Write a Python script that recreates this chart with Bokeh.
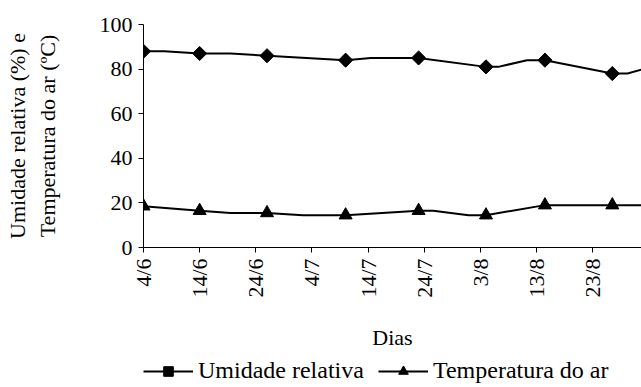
import math
from bokeh.plotting import figure
from bokeh.layouts import column
from bokeh.models import Legend, LegendItem, FixedTicker, Range1d
from bokeh.embed import file_html
from bokeh.resources import INLINE

# X axis: days counted from 4/6, labels every 10 days
tick_days = [0, 10, 20, 30, 40, 50, 60, 70, 80, 90]
tick_labels = ["4/6", "14/6", "24/6", "4/7", "14/7", "24/7", "3/8", "13/8", "23/8", "2/9"]

# sampling days (with markers)
sample_days = [0, 10, 22, 36, 49, 61, 71.5, 83.5]
hum_samples = [88, 87, 86, 84, 85, 81, 84, 78]
temp_samples = [18.5, 16.5, 15.5, 14.5, 16.5, 14.5, 19, 19]

# line vertices (including unmarked bends)
hum_line_days = [0, 3.7, 10, 15.5, 22, 36, 40.5, 49, 61, 63.2, 68.3, 71.5, 83.5, 86.2, 89]
hum_line_vals = [88, 88, 87, 87, 86, 84, 85, 85, 81, 81, 84, 84, 78, 78, 80]
temp_line_days = [0, 10, 15.5, 22, 28.4, 36, 49, 51.6, 57.9, 61, 71.5, 83.5, 89]
temp_line_vals = [18.5, 16.5, 15.5, 15.5, 14.5, 14.5, 16.5, 16.5, 14.5, 14.5, 19, 19, 19]

series_names = ["Umidade relativa", "Temperatura do ar"]

FONT = "Liberation Serif"
FS = "22px"


def draw_series(fig):
    a = fig.line(hum_line_days, hum_line_vals, line_color="black", line_width=2)
    b = fig.scatter(sample_days, hum_samples, marker="square", angle=math.pi / 4,
                    size=10, fill_color="black", line_color="black")
    c = fig.line(temp_line_days, temp_line_vals, line_color="black", line_width=2)
    d = fig.scatter(sample_days, temp_samples, marker="triangle", size=13,
                    fill_color="black", line_color="black")
    return a, b, c, d


p = figure(width=641, height=352, output_backend="svg", toolbar_location=None,
           x_range=Range1d(0, 88.7), y_range=Range1d(0, 100),
           min_border_left=143, min_border_right=0, min_border_top=24,
           min_border_bottom=0)
p.outline_line_color = None
p.grid.visible = False
draw_series(p)

# x axis
p.xaxis.ticker = FixedTicker(ticks=tick_days)
p.xaxis.major_label_overrides = {d: l for d, l in zip(tick_days, tick_labels)}
p.xaxis.major_label_orientation = math.pi / 2
p.xaxis.axis_label = "Dias"
p.xaxis.minor_tick_line_color = None

# y axis
p.yaxis.ticker = FixedTicker(ticks=[0, 20, 40, 60, 80, 100])
p.yaxis.minor_tick_line_color = None
p.yaxis.axis_label = "Umidade relativa (%) e\nTemperatura do ar (ºC)"

for ax in (p.xaxis, p.yaxis):
    ax.axis_line_color = "black"
    ax.major_tick_line_color = "black"
    ax.major_tick_out = 5
    ax.major_tick_in = 0
    ax.major_label_text_font = FONT
    ax.major_label_text_font_size = FS
    ax.major_label_text_color = "black"
    ax.axis_label_text_font = FONT
    ax.axis_label_text_font_size = FS
    ax.axis_label_text_font_style = "normal"
    ax.axis_label_text_color = "black"
p.yaxis.major_label_standoff = 6
p.xaxis.major_label_standoff = 6
p.xaxis.axis_label_standoff = 24
p.yaxis.axis_label_standoff = 37

# legend strip below the chart (series drawn out of view, used only for legend glyphs)
lg = figure(width=641, height=35, output_backend="svg", toolbar_location=None,
            x_range=Range1d(0, 1), y_range=Range1d(-2, -1),
            min_border=0)
lg.outline_line_color = None
lg.grid.visible = False
lg.axis.visible = False
l1, s1, l2, s2 = draw_series(lg)

legend = Legend(items=[
    LegendItem(label=series_names[0], renderers=[l1, s1]),
    LegendItem(label=series_names[1], renderers=[l2, s2]),
], orientation="horizontal", location=(0, 3))
legend.label_text_font = FONT
legend.label_text_font_size = "24px"
legend.label_text_color = "black"
legend.glyph_width = 50
legend.glyph_height = 24
legend.spacing = 14
legend.label_standoff = 5
legend.border_line_color = None
legend.background_fill_alpha = 0
legend.padding = 0
legend.margin = 0
lg.add_layout(legend)

layout = column(p, lg, spacing=0)
open("out.html", "w").write(file_html(layout, INLINE))
